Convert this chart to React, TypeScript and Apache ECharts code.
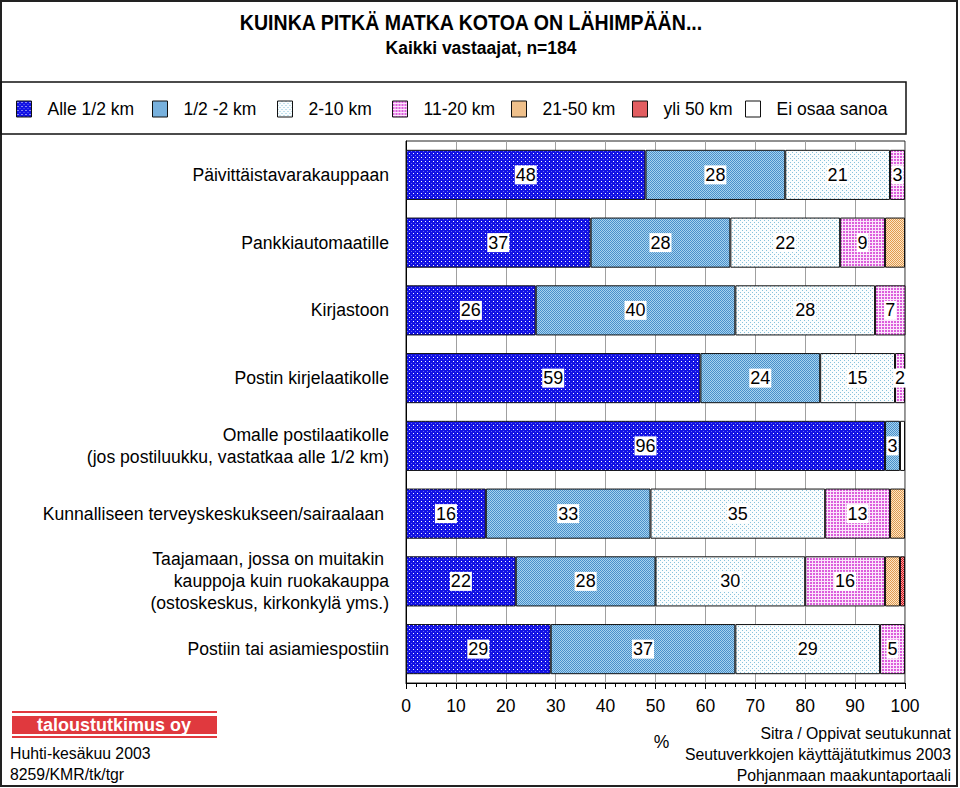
import React, { useEffect, useRef } from "react";
import * as echarts from "echarts";

const categories = [
  "Päivittäistavarakauppaan",
  "Pankkiautomaatille",
  "Kirjastoon",
  "Postin kirjelaatikolle",
  "Omalle postilaatikolle\n(jos postiluukku, vastatkaa alle 1/2 km)",
  "Kunnalliseen terveyskeskukseen/sairaalaan ",
  "Taajamaan, jossa on muitakin \nkauppoja kuin ruokakauppa\n(ostoskeskus, kirkonkylä yms.)",
  "Postiin tai asiamiespostiin",
];

const seriesNames = [
  "Alle 1/2 km",
  "1/2 -2 km",
  "2-10 km",
  "11-20 km",
  "21-50 km",
  "yli 50 km",
  "Ei osaa sanoa",
];

const alle05 = [48, 37, 26, 59, 96, 16, 22, 29];
const km05to2 = [28, 28, 40, 24, 3, 33, 28, 37];
const km2to10 = [21, 22, 28, 15, 0, 35, 30, 29];
const km11to20 = [3, 9, 7, 2, 0, 13, 16, 5];
const km21to50 = [0, 4, 0, 0, 0, 3, 3, 1];
const yli50 = [0, 0, 0, 0, 0, 0, 1, 0];
const eiOsaa = [0, 0, 0, 0, 1, 0, 1, 0];

const seriesValues = [alle05, km05to2, km2to10, km11to20, km21to50, yli50, eiOsaa];
const labelledSeries = [true, true, true, true, false, false, false];

const xMin = 0;
const xMax = 100;
const xInterval = 10;

const FAM = "'Liberation Sans', Arial, sans-serif";

function makePattern(w: number, h: number, bg: string, layers: [string, number[][]][]) {
  const c = document.createElement("canvas");
  c.width = w;
  c.height = h;
  const ctx = c.getContext("2d")!;
  ctx.fillStyle = bg;
  ctx.fillRect(0, 0, w, h);
  layers.forEach(([col, pts]) => {
    ctx.fillStyle = col;
    pts.forEach(([x, y]) => ctx.fillRect(x, y, 1, 1));
  });
  return { image: c.toDataURL(), repeat: "repeat", imageWidth: w, imageHeight: h } as any;
}

export default function App() {
  const ref = useRef<HTMLDivElement>(null);

  useEffect(() => {
    document.body.style.margin = "0";
    if (!ref.current) return;
    const chart = echarts.init(ref.current, undefined, { renderer: "svg" });

    const cross = [[0, 0], [2, 0], [1, 1], [3, 1], [0, 2], [2, 2], [1, 3], [3, 3]];
    const patterns = [
      makePattern(4, 4, "#1212e4", [["#ffffff", [[1, 1]]], ["#6a6af0", [[3, 3]]]]),
      makePattern(2, 2, "#4a8fca", [["#a6d3ef", [[1, 0], [0, 1]]]]),
      makePattern(4, 4, "#fafdfe", [["#86c2dc", [[0, 0], [2, 2]]]]),
      makePattern(3, 3, "#fbe6fb", [["#dc5edc", [[0, 0], [1, 0], [0, 1], [1, 1]]]]),
      makePattern(4, 4, "#fde6c6", [["#e09a50", cross]]),
      makePattern(4, 4, "#f4a8a8", [["#d0141a", cross]]),
      "#ffffff",
    ];

    const series = seriesNames.map((name, si) => ({
      name,
      type: "bar",
      stack: "total",
      barCategoryGap: "26%",
      itemStyle: { color: patterns[si], borderColor: "#111", borderWidth: 1 },
      label: {
        show: labelledSeries[si],
        position: "inside",
        color: "#000",
        backgroundColor: "#fff",
        padding: [1, 1, 0, 1],
        fontSize: 18,
        fontFamily: FAM,
        formatter: "{c}",
      },
      emphasis: { disabled: true },
      data: seriesValues[si].map((v) => (v === 0 ? "-" : v)),
    }));

    const legendLefts = [16, 152, 277, 392, 511, 632, 745];
    const txt = (text: string, x: number, y: number, align: string, size: number) => ({
      type: "text",
      x,
      y,
      silent: true,
      style: {
        text,
        fill: "#000",
        font: `${size}px 'Liberation Sans', Arial, sans-serif`,
        textAlign: align,
        textVerticalAlign: "middle",
      },
    });

    chart.setOption({
      animation: false,
      textStyle: { fontFamily: FAM },
      legend: seriesNames.map((n, i) => ({
        data: [n],
        left: legendLefts[i],
        top: 100,
        padding: 0,
        icon: "rect",
        itemWidth: 15,
        itemHeight: 16,
        selectedMode: false,
        itemStyle: { borderColor: "#111", borderWidth: 1 },
        textStyle: { fontSize: 17.5, color: "#000", fontFamily: FAM, padding: [0, 0, 0, 11] },
      })),
      grid: {
        left: 406,
        right: 55,
        top: 141,
        bottom: 105,
        show: true,
        borderColor: "#222",
        borderWidth: 1,
        backgroundColor: "#fff",
      },
      xAxis: {
        type: "value",
        min: xMin,
        max: xMax,
        interval: xInterval,
        name: "%",
        nameLocation: "middle",
        nameGap: 50,
        nameTextStyle: { fontSize: 17.5, color: "#000", padding: [0, 0, 0, 12] },
        axisLine: { show: true, lineStyle: { color: "#000", width: 1 } },
        axisTick: { show: true, length: 6, lineStyle: { color: "#000" } },
        minorTick: { show: true, splitNumber: 5, length: 4, lineStyle: { color: "#000" } },
        axisLabel: { fontSize: 17.5, color: "#000", margin: 14 },
        splitLine: { show: true, lineStyle: { color: "#a0a0a0", width: 1 } },
      },
      yAxis: {
        type: "category",
        inverse: true,
        data: categories,
        axisLine: { show: true, lineStyle: { color: "#000" } },
        axisTick: { show: false },
        axisLabel: { fontSize: 17.6, color: "#000", margin: 17, lineHeight: 22 },
      },
      series,
      graphic: [
        {
          type: "rect",
          shape: { x: 1, y: 1, width: 956, height: 785 },
          style: { fill: "none", stroke: "#222", lineWidth: 2 },
          silent: true,
        },
        {
          type: "rect",
          shape: { x: 1, y: 82, width: 905, height: 52 },
          style: { fill: "none", stroke: "#111", lineWidth: 1.5 },
          silent: true,
        },
        {
          type: "text",
          x: 471,
          y: 22,
          scaleX: 0.89,
          silent: true,
          style: {
            text: "KUINKA PITKÄ MATKA KOTOA ON LÄHIMPÄÄN...",
            fill: "#000",
            font: "bold 22px 'Liberation Sans', Arial, sans-serif",
            textAlign: "center",
            textVerticalAlign: "middle",
          },
        },
        {
          type: "text",
          x: 481,
          y: 47,
          scaleX: 0.92,
          silent: true,
          style: {
            text: "Kaikki vastaajat, n=184",
            fill: "#000",
            font: "bold 19px 'Liberation Sans', Arial, sans-serif",
            textAlign: "center",
            textVerticalAlign: "middle",
          },
        },
        { type: "rect", shape: { x: 12, y: 711, width: 205, height: 2 }, style: { fill: "#e0393e" } },
        { type: "rect", shape: { x: 12, y: 716, width: 205, height: 18 }, style: { fill: "#e0393e" } },
        { type: "rect", shape: { x: 12, y: 736, width: 205, height: 2 }, style: { fill: "#e0393e" } },
        {
          type: "text",
          x: 114,
          y: 725,
          silent: true,
          style: {
            text: "taloustutkimus oy",
            fill: "#fff",
            font: "bold 18px 'Liberation Sans', Arial, sans-serif",
            textAlign: "center",
            textVerticalAlign: "middle",
          },
        },
        txt("Huhti-kesäkuu 2003", 10, 753, "left", 15.8),
        txt("8259/KMR/tk/tgr", 10, 774, "left", 15.8),
        txt("Sitra / Oppivat seutukunnat", 951, 733, "right", 15.8),
        txt("Seutuverkkojen käyttäjätutkimus 2003", 951, 754, "right", 15.8),
        txt("Pohjanmaan maakuntaportaali", 951, 775, "right", 15.8),
      ],
    });

    return () => chart.dispose();
  }, []);

  return <div ref={ref} style={{ width: 960, height: 788 }} />;
}
